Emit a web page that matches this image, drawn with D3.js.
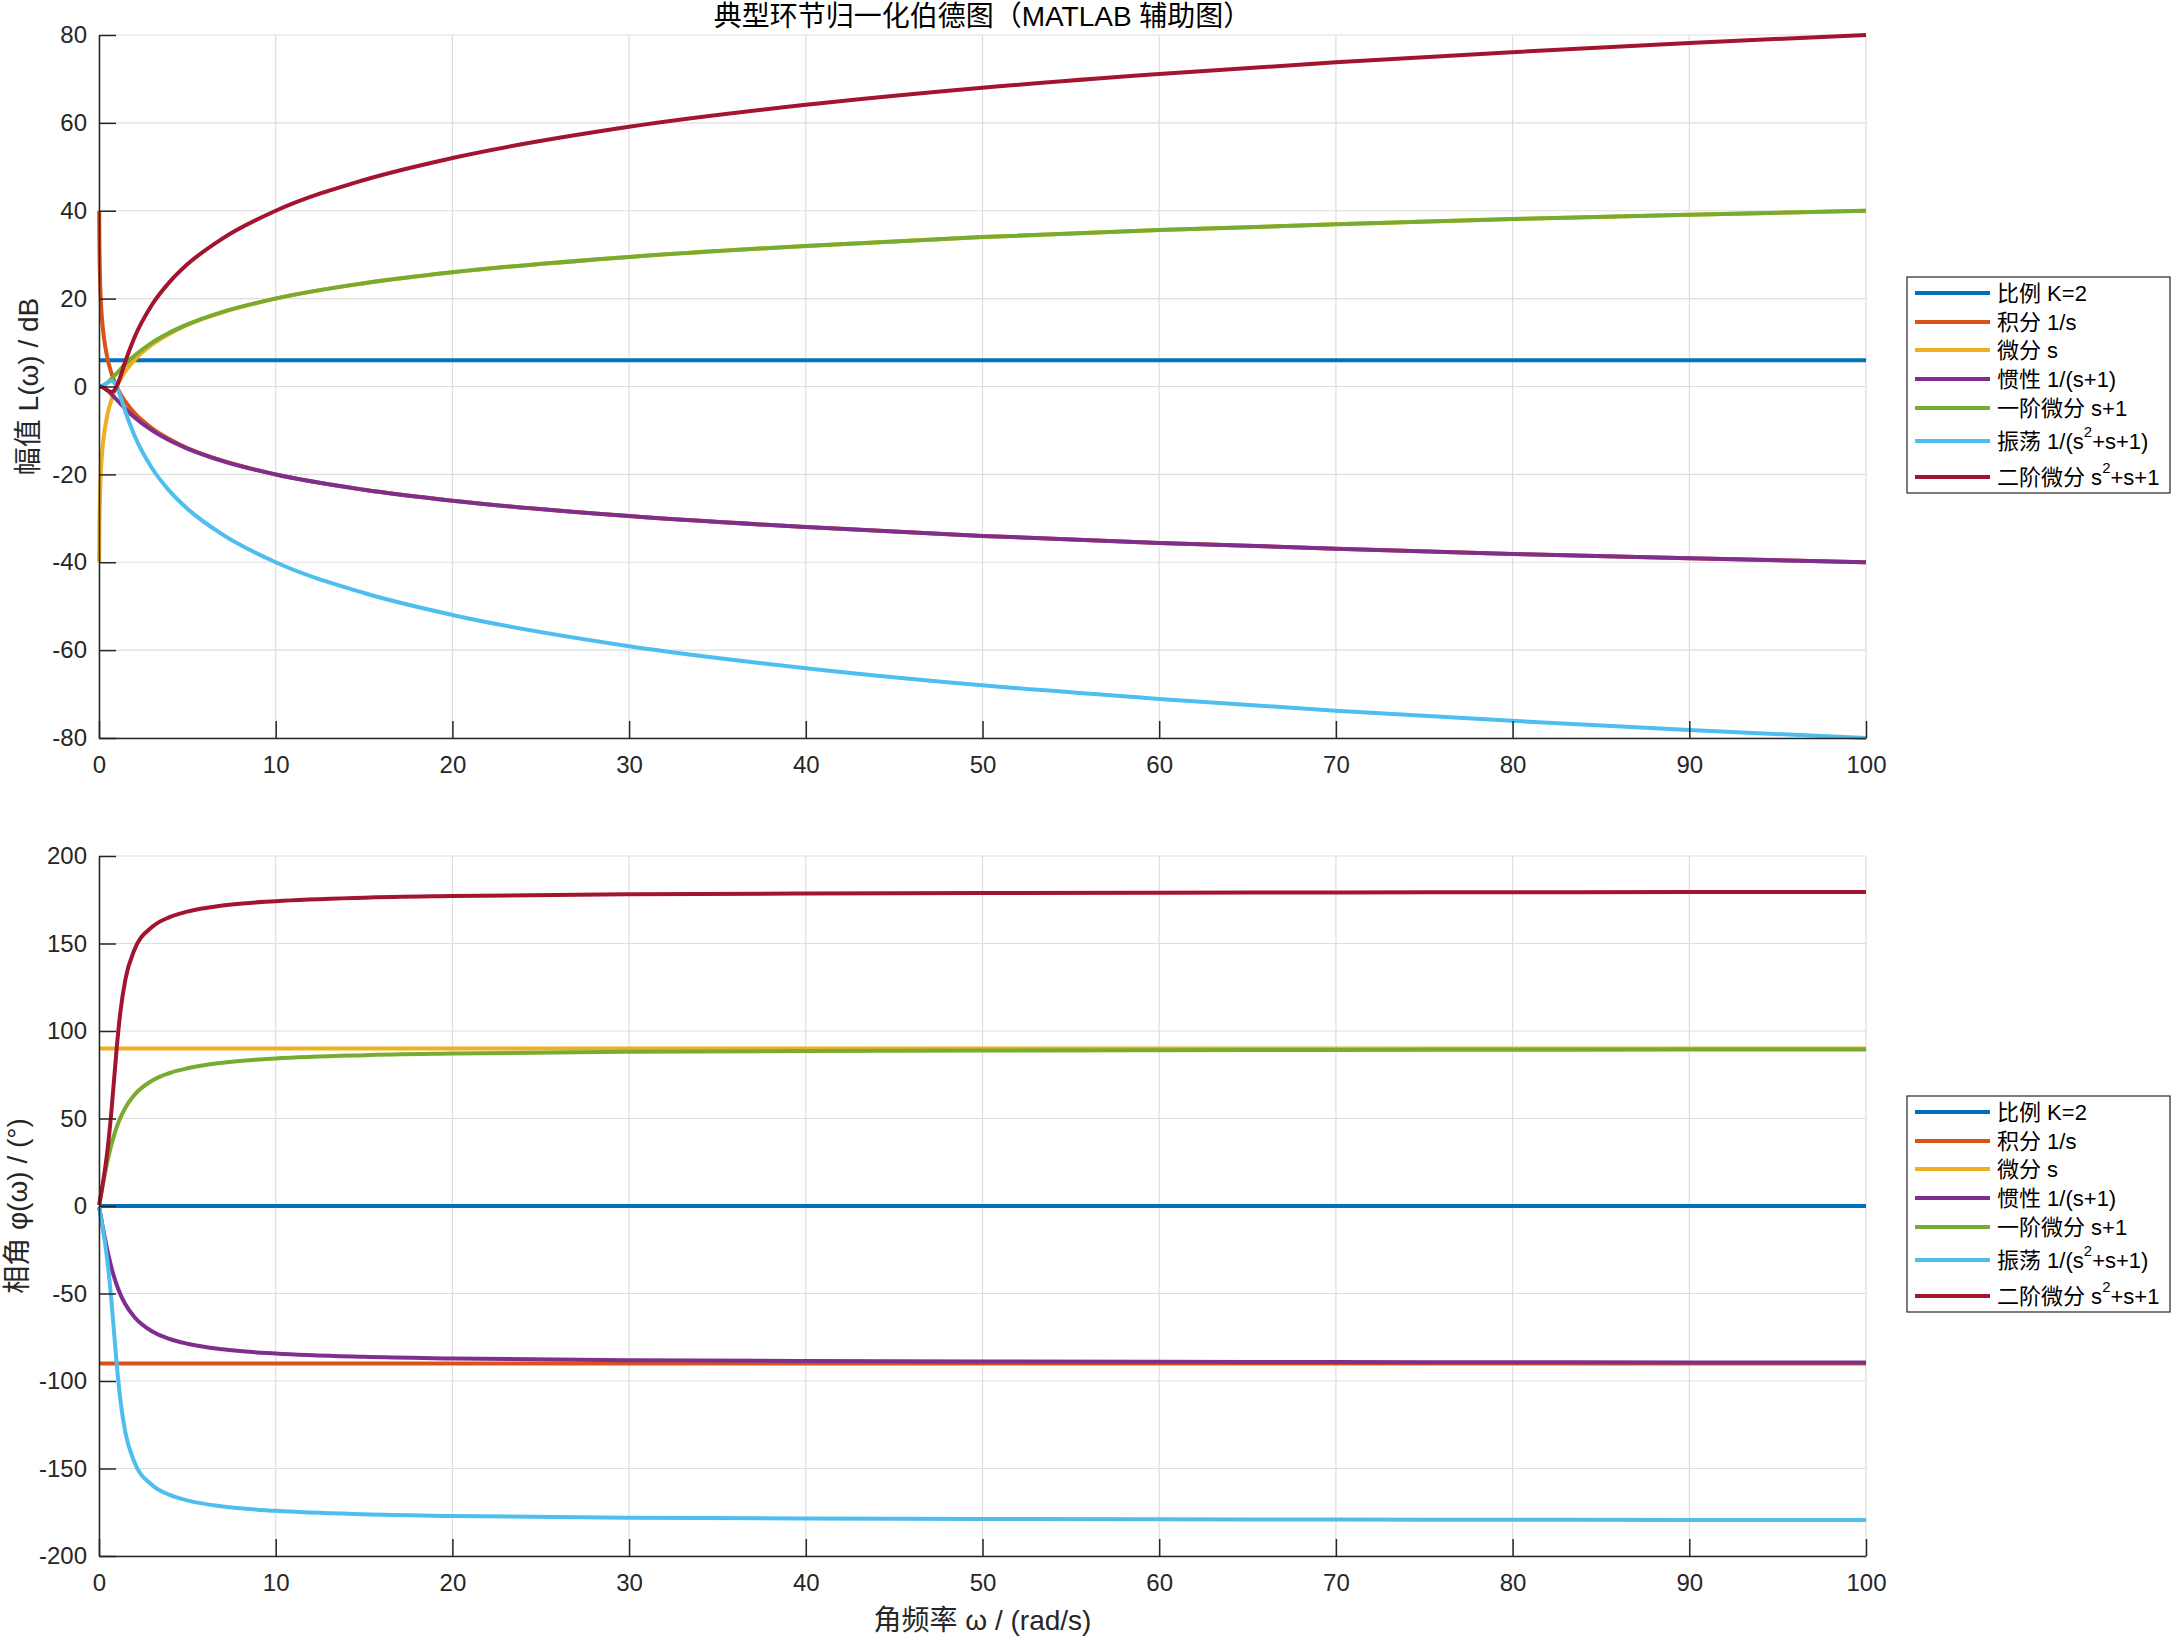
<!DOCTYPE html>
<html>
<head>
<meta charset="utf-8">
<script src="https://cdn.jsdelivr.net/npm/d3@7"></script>
<style>
  html, body { margin: 0; padding: 0; background: #fff; }
  svg { display: block; font-family: "Liberation Sans", Arial, "Noto Sans CJK SC", sans-serif; }
  .axis text { fill: #262626; font-size: 24px; }
  .axis path, .axis line { stroke: #262626; stroke-width: 1.5; }
  .grid line { stroke: #dedede; stroke-width: 1.2; }
</style>
</head>
<body>
<div id="chart"></div>
<script>
/* global d3 */

// frequency samples (rad/s)
const omega = [0.01, 0.02, 0.05, 0.1, 0.2, 0.3, 0.5, 0.7, 0.85, 1, 1.2, 1.5, 2, 3, 4, 5, 7, 10, 15, 20, 30, 40, 50, 60, 70, 80, 90, 100];

// legend labels ("^2" = superscript)
const labels = ['比例 K=2', '积分 1/s', '微分 s', '惯性 1/(s+1)', '一阶微分 s+1', '振荡 1/(s^2+s+1)', '二阶微分 s^2+s+1'];
const colors = ['#0072BD', '#D95319', '#EDB120', '#7E2F8E', '#77AC30', '#4DBEEE', '#A2142F'];

// magnitude L(w), dB
const magProp = [6, 6, 6, 6, 6, 6, 6, 6, 6, 6, 6, 6, 6, 6, 6, 6, 6, 6, 6, 6, 6, 6, 6, 6, 6, 6, 6, 6];
const magInt = [40, 34, 26, 20, 14, 10.5, 6, 3.1, 1.4, 0, -1.6, -3.5, -6, -9.5, -12, -14, -16.9, -20, -23.5, -26, -29.5, -32, -34, -35.6, -36.9, -38.1, -39.1, -40];
const magDiff = [-40, -34, -26, -20, -14, -10.5, -6, -3.1, -1.4, 0, 1.6, 3.5, 6, 9.5, 12, 14, 16.9, 20, 23.5, 26, 29.5, 32, 34, 35.6, 36.9, 38.1, 39.1, 40];
const magLag = [0, 0, 0, -0.04, -0.17, -0.37, -0.97, -1.73, -2.35, -3.01, -3.87, -5.12, -6.99, -10, -12.3, -14.15, -17, -20.04, -23.5, -26, -29.5, -32, -34, -35.6, -36.9, -38.1, -39.1, -40];
const magLead = [0, 0, 0, 0.04, 0.17, 0.37, 0.97, 1.73, 2.35, 3.01, 3.87, 5.12, 6.99, 10, 12.3, 14.15, 17, 20.04, 23.5, 26, 29.5, 32, 34, 35.6, 36.9, 38.1, 39.1, 40];
const magOsc = [0, 0, 0.01, 0.04, 0.17, 0.37, 0.9, 1.25, 0.97, 0, -2.13, -5.8, -11.1, -18.6, -23.8, -27.8, -33.7, -40, -47, -52, -59.1, -64.1, -68, -71.1, -73.8, -76.1, -78.2, -80];
const magLead2 = [0, 0, -0.01, -0.04, -0.17, -0.37, -0.9, -1.25, -0.97, 0, 2.13, 5.8, 11.1, 18.6, 23.8, 27.8, 33.7, 40, 47, 52, 59.1, 64.1, 68, 71.1, 73.8, 76.1, 78.2, 80];

// phase phi(w), degrees
const phProp = [0, 0, 0, 0, 0, 0, 0, 0, 0, 0, 0, 0, 0, 0, 0, 0, 0, 0, 0, 0, 0, 0, 0, 0, 0, 0, 0, 0];
const phInt = [-90, -90, -90, -90, -90, -90, -90, -90, -90, -90, -90, -90, -90, -90, -90, -90, -90, -90, -90, -90, -90, -90, -90, -90, -90, -90, -90, -90];
const phDiff = [90, 90, 90, 90, 90, 90, 90, 90, 90, 90, 90, 90, 90, 90, 90, 90, 90, 90, 90, 90, 90, 90, 90, 90, 90, 90, 90, 90];
const phLag = [-0.6, -1.1, -2.9, -5.7, -11.3, -16.7, -26.6, -35, -40.4, -45, -50.2, -56.3, -63.4, -71.6, -76, -78.7, -81.9, -84.3, -86.2, -87.1, -88.1, -88.6, -88.9, -89, -89.2, -89.3, -89.4, -89.4];
const phLead = [0.6, 1.1, 2.9, 5.7, 11.3, 16.7, 26.6, 35, 40.4, 45, 50.2, 56.3, 63.4, 71.6, 76, 78.7, 81.9, 84.3, 86.2, 87.1, 88.1, 88.6, 88.9, 89, 89.2, 89.3, 89.4, 89.4];
const phOsc = [-0.6, -1.1, -2.9, -5.8, -11.8, -18.2, -33.7, -53.9, -71.9, -90, -110.1, -129.8, -146.3, -159.4, -165.1, -168.2, -171.7, -174.2, -176.2, -177.1, -178.1, -178.6, -178.9, -179, -179.2, -179.3, -179.4, -179.4];
const phLead2 = [0.6, 1.1, 2.9, 5.8, 11.8, 18.2, 33.7, 53.9, 71.9, 90, 110.1, 129.8, 146.3, 159.4, 165.1, 168.2, 171.7, 174.2, 176.2, 177.1, 178.1, 178.6, 178.9, 179, 179.2, 179.3, 179.4, 179.4];

const xTicks = [0, 10, 20, 30, 40, 50, 60, 70, 80, 90, 100];
const magTicks = [-80, -60, -40, -20, 0, 20, 40, 60, 80];
const phTicks = [-200, -150, -100, -50, 0, 50, 100, 150, 200];

const magData = [magProp, magInt, magDiff, magLag, magLead, magOsc, magLead2];
const phData = [phProp, phInt, phDiff, phLag, phLead, phOsc, phLead2];

// dimensions
const W = 2176;
const H = 1637;
const LEFT = 99;
const RIGHT = 1866;
const TICK = 17;
const LINE_W = 4;
const SUP = 12;

const $svg = d3.select('#chart').append('svg').attr('width', W).attr('height', H);

const scaleX = d3.scaleLinear().domain([0, 100]).range([LEFT, RIGHT]);

function addLabel($t, str) {
  // split "s^2" into normal text + superscript tspans
  const parts = str.split(/\^(\d)/);
  let shift = 0;
  parts.forEach((p, i) => {
    if (!p) return;
    if (i % 2 === 1) {
      $t.append('tspan').attr('dy', -SUP).style('font-size', '15px').text(p);
      shift = SUP;
    } else {
      $t.append('tspan').attr('dy', shift).text(p);
      shift = 0;
    }
  });
}

function drawPanel({ top, bottom, domain, ticks, data, yLabel, yLabelX, legendTop }) {
  const scaleY = d3.scaleLinear().domain(domain).range([bottom, top]);
  const $g = $svg.append('g');

  // grid
  const $grid = $g.append('g').attr('class', 'grid');
  $grid.selectAll('.gx').data(xTicks).join('line')
    .attr('x1', d => scaleX(d)).attr('x2', d => scaleX(d))
    .attr('y1', top).attr('y2', bottom);
  $grid.selectAll('.gy').data(ticks).join('line')
    .attr('x1', LEFT).attr('x2', RIGHT)
    .attr('y1', d => scaleY(d)).attr('y2', d => scaleY(d));

  // lines
  const line = d3.line()
    .curve(d3.curveMonotoneX)
    .x((d, i) => scaleX(omega[i]))
    .y(d => scaleY(d));

  $g.append('g').selectAll('path').data(data).join('path')
    .attr('fill', 'none')
    .attr('stroke', (d, i) => colors[i])
    .attr('stroke-width', LINE_W)
    .attr('stroke-linejoin', 'round')
    .attr('d', line);

  // axes
  $g.append('g').attr('class', 'axis')
    .attr('transform', `translate(${LEFT},0)`)
    .call(d3.axisLeft(scaleY).tickValues(ticks).tickSizeInner(-TICK).tickSizeOuter(0).tickPadding(12).tickFormat(d => String(d)));

  $g.append('g').attr('class', 'axis')
    .attr('transform', `translate(0,${bottom})`)
    .call(d3.axisBottom(scaleX).tickValues(xTicks).tickSizeInner(-TICK).tickSizeOuter(0).tickPadding(18).tickFormat(d => String(d)));

  $g.selectAll('.axis text').attr('font-family', '"Liberation Sans", Arial, sans-serif');

  // y label
  $g.append('text')
    .attr('transform', `translate(${yLabelX},${(top + bottom) / 2}) rotate(-90)`)
    .attr('text-anchor', 'middle')
    .attr('dy', '0.35em')
    .style('font-size', '28px')
    .attr('fill', '#262626')
    .text(yLabel);

  // legend
  const lx = 1907;
  const rowY = [16, 45, 73, 102, 131, 164, 200];
  const $leg = $g.append('g').attr('transform', `translate(${lx},${legendTop})`);
  $leg.append('rect')
    .attr('width', 263).attr('height', 216)
    .attr('fill', '#fff').attr('stroke', '#262626').attr('stroke-width', 1.2);

  labels.forEach((lab, i) => {
    $leg.append('line')
      .attr('x1', 8).attr('x2', 83)
      .attr('y1', rowY[i]).attr('y2', rowY[i])
      .attr('stroke', colors[i]).attr('stroke-width', LINE_W);
    const $t = $leg.append('text')
      .attr('x', 90).attr('y', rowY[i] + 8)
      .style('font-size', '22px')
      .attr('fill', '#000');
    addLabel($t, lab);
  });
}

drawPanel({
  top: 35, bottom: 738, domain: [-80, 80], ticks: magTicks, data: magData,
  yLabel: '幅值 L(ω) / dB', yLabelX: 28, legendTop: 277,
});

drawPanel({
  top: 856, bottom: 1556, domain: [-200, 200], ticks: phTicks, data: phData,
  yLabel: '相角 φ(ω) / (°)', yLabelX: 17, legendTop: 1096,
});

// title and x label
$svg.append('text')
  .attr('x', (LEFT + RIGHT) / 2).attr('y', 26)
  .attr('text-anchor', 'middle')
  .style('font-size', '28px')
  .attr('fill', '#000')
  .text('典型环节归一化伯德图（MATLAB 辅助图）');

$svg.append('text')
  .attr('x', (LEFT + RIGHT) / 2).attr('y', 1620)
  .attr('text-anchor', 'middle')
  .attr('dy', '0.35em')
  .style('font-size', '28px')
  .attr('fill', '#262626')
  .text('角频率 ω / (rad/s)');
</script>
</body>
</html>
